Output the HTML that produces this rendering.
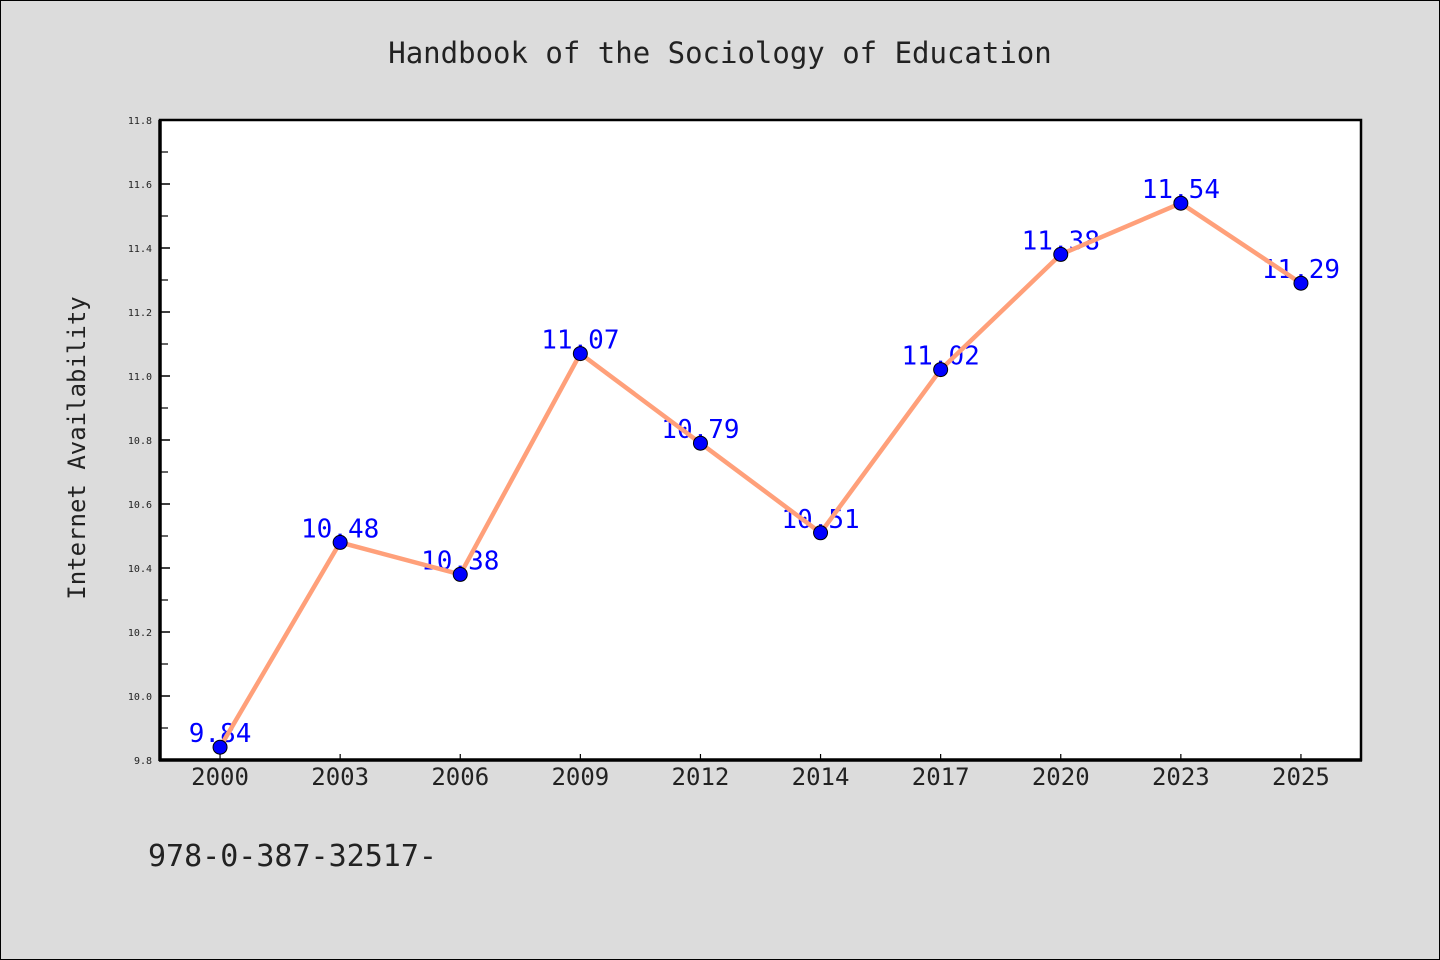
<!DOCTYPE html>
<html><head><meta charset="utf-8"><style>
html,body{margin:0;padding:0;background:#dcdcdc;}
svg{display:block;font-family:"DejaVu Sans Mono","Liberation Mono",monospace;}
</style></head><body>
<svg id="chart" width="1440" height="960" viewBox="0 0 1440 960">
<rect x="0.5" y="0.5" width="1439" height="959" fill="#dcdcdc" stroke="#000"/>
<text x="720" y="63" text-anchor="middle" font-size="29" fill="#222">Handbook of the Sociology of Education</text>
<rect x="160" y="120" width="1201" height="640" fill="#fff"/>
<g id="grid"></g>
<g id="series"></g>
<rect x="160" y="120" width="1201" height="640" fill="none" stroke="#000" stroke-width="2.5"/>
<line x1="160" y1="120" x2="160" y2="761" stroke="#000" stroke-width="3.5"/>
<line x1="159" y1="760" x2="1362" y2="760" stroke="#000" stroke-width="3.5"/>
<text transform="translate(85,448) rotate(-90)" text-anchor="middle" font-size="24" fill="#222">Internet Availability</text>
<text x="148" y="866" font-size="30" fill="#222">978-0-387-32517-</text>
</svg>
<script>
const categories=["2000","2003","2006","2009","2012","2014","2017","2020","2023","2025"];
const values=[9.84,10.48,10.38,11.07,10.79,10.51,11.02,11.38,11.54,11.29];
const yTicks=[9.8,10.0,10.2,10.4,10.6,10.8,11.0,11.2,11.4,11.6,11.8];
const NS="http://www.w3.org/2000/svg";
const L=160,R=1361,T=120,B=760,yMin=9.8,yMax=11.8;
const step=(R-L)/categories.length;
function xs(i){return L+step*(i+0.5);}
function ys(v){return B-(v-yMin)/(yMax-yMin)*(B-T);}
function mk(tag,attrs,parent){const e=document.createElementNS(NS,tag);for(const k in attrs)e.setAttribute(k,attrs[k]);parent.appendChild(e);return e;}
const g=document.getElementById('grid'),s=document.getElementById('series');
yTicks.forEach((v,i)=>{
  const y=ys(v);
  const t=mk('line',{x1:L,x2:L+10,y1:y,y2:y,stroke:'#000','stroke-width':1.5},g);
  
  
  const lb=mk('text',{x:L-8,y:y+4,'text-anchor':'end','font-size':10,fill:'#222'},g);
  lb.textContent=v.toFixed(1);
  
  
  if(i<yTicks.length-1){
    const ym=ys(v+0.1);
    const m=mk('line',{x1:L,x2:L+8,y1:ym,y2:ym,stroke:'#000','stroke-width':1.2},g);
    
    
  }
});
categories.forEach((c,i)=>{
  const x=xs(i);
  const t=mk('line',{x1:x,x2:x,y1:B,y2:B-6,stroke:'#000','stroke-width':1.2},g);
  
  
  const lb=mk('text',{x:x,y:B+25,'text-anchor':'middle','font-size':24,fill:'#222'},g);
  lb.textContent=c;
  
  
});
values.forEach((v,i)=>{
  const lb=mk('text',{x:xs(i),y:ys(v)-5,'text-anchor':'middle','font-size':26,fill:'#0000ff'},s);
  lb.textContent=v.toFixed(2);
  
  
});
const line=mk('polyline',{points:values.map((v,i)=>xs(i)+','+ys(v)).join(' '),fill:'none',stroke:'#ffa07a','stroke-width':4.5},s);


values.forEach((v,i)=>{
  const p=mk('circle',{cx:xs(i),cy:ys(v),r:7,fill:'#0000ff',stroke:'#000','stroke-width':1},s);
  
  
});
</script>
</body></html>
